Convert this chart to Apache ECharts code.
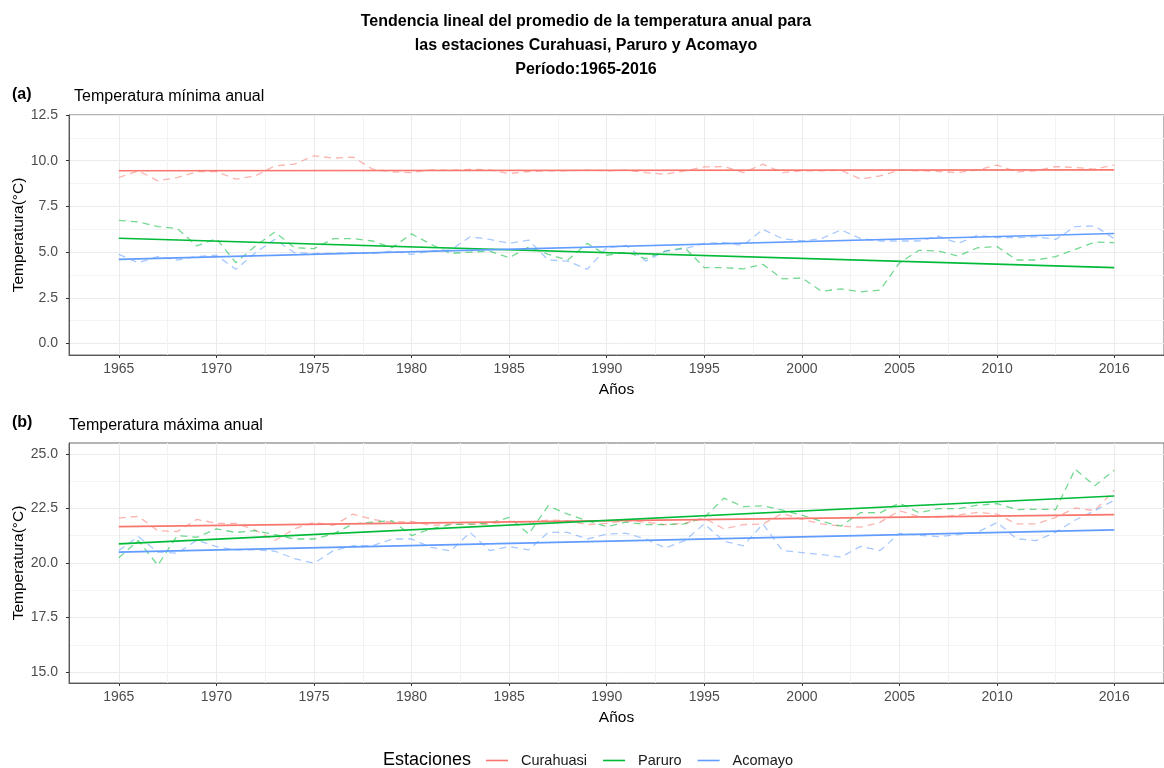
<!DOCTYPE html>
<html lang="es">
<head>
<meta charset="UTF-8">
<title>Tendencia lineal de la temperatura anual</title>
<script src="https://cdn.jsdelivr.net/npm/echarts@6/dist/echarts.min.js"></script>
<style>
    html, body { margin: 0; padding: 0; background: #fff; }
    #main { width: 1164px; height: 768px; }
</style>
</head>
<body>
<div id="main"></div>
<script type="text/javascript">
    // años de la serie
    var years = [1965, 1966, 1967, 1968, 1969, 1970, 1971, 1972, 1973, 1974, 1975, 1976, 1977,
        1978, 1979, 1980, 1981, 1982, 1983, 1984, 1985, 1986, 1987, 1988, 1989, 1990,
        1991, 1992, 1993, 1994, 1995, 1996, 1997, 1998, 1999, 2000, 2001, 2002, 2003,
        2004, 2005, 2006, 2007, 2008, 2009, 2010, 2011, 2012, 2013, 2014, 2015, 2016];
    var stations = ['Curahuasi', 'Paruro', 'Acomayo'];

    // (a) temperatura minima anual
    var tminCurahuasi = [9.08, 9.45, 8.90, 9.08, 9.40, 9.40, 8.99, 9.17, 9.72, 9.81, 10.27, 10.14, 10.20,
        9.54, 9.39, 9.35, 9.50, 9.48, 9.53, 9.50, 9.30, 9.41, 9.45, 9.45, 9.48, 9.45,
        9.48, 9.35, 9.26, 9.45, 9.66, 9.68, 9.35, 9.81, 9.35, 9.45, 9.45, 9.48, 9.00,
        9.17, 9.48, 9.45, 9.41, 9.35, 9.50, 9.76, 9.39, 9.45, 9.68, 9.63, 9.54, 9.76];
    var tminParuro = [6.74, 6.65, 6.40, 6.29, 5.34, 5.74, 4.42, 5.34, 6.10, 5.24, 5.19, 5.74, 5.74,
        5.61, 5.24, 6.00, 5.43, 4.93, 5.00, 5.06, 4.69, 5.28, 4.88, 4.57, 5.48, 4.83,
        5.00, 4.64, 5.06, 5.24, 4.15, 4.15, 4.09, 4.33, 3.54, 3.59, 2.86, 2.99, 2.83,
        2.92, 4.42, 5.10, 5.06, 4.79, 5.24, 5.30, 4.57, 4.57, 4.76, 5.15, 5.55, 5.52];
    var tminAcomayo = [4.88, 4.42, 4.76, 4.57, 4.76, 4.83, 4.06, 4.97, 5.70, 4.97, 4.92, 4.94, 4.97,
        4.92, 5.06, 4.88, 5.06, 5.11, 5.84, 5.70, 5.48, 5.66, 4.57, 4.51, 4.06, 5.24,
        5.37, 4.51, 5.06, 5.19, 5.48, 5.52, 5.37, 6.25, 5.74, 5.61, 5.74, 6.22, 5.74,
        5.61, 5.61, 5.61, 5.88, 5.48, 5.92, 5.79, 5.79, 5.84, 5.70, 6.40, 6.43, 5.74];

    // (b) temperatura maxima anual
    var tmaxCurahuasi = [22.06, 22.14, 21.48, 21.44, 22.00, 21.82, 21.82, 21.50, 21.03, 21.56, 21.87, 21.72, 22.24,
        22.00, 21.87, 21.91, 21.72, 21.78, 21.76, 21.79, 21.91, 21.87, 21.97, 21.94, 21.76, 21.82,
        21.94, 21.87, 21.76, 21.82, 22.06, 21.56, 21.76, 21.79, 22.27, 22.00, 21.79, 21.69, 21.64,
        21.86, 22.40, 22.12, 22.09, 22.20, 22.32, 22.24, 21.79, 21.79, 22.09, 22.52, 22.40, 23.34];
    var tmaxParuro = [20.24, 21.03, 19.90, 21.26, 21.18, 21.56, 21.40, 21.48, 21.30, 21.10, 21.10, 21.33, 21.79,
        21.87, 21.94, 21.26, 21.56, 21.76, 21.79, 21.82, 22.09, 21.33, 22.62, 22.24, 21.94, 21.67,
        21.87, 21.76, 21.76, 21.79, 22.09, 22.97, 22.58, 22.62, 22.42, 22.19, 21.91, 21.69, 22.31,
        22.30, 22.75, 22.30, 22.49, 22.49, 22.65, 22.72, 22.45, 22.46, 22.45, 24.30, 23.54, 24.25];
    var tmaxAcomayo = [20.57, 21.21, 20.50, 20.45, 21.05, 20.75, 20.60, 20.60, 20.54, 20.20, 19.99, 20.57, 20.79,
        20.79, 21.10, 21.10, 20.72, 20.55, 21.40, 20.57, 20.75, 20.60, 21.40, 21.40, 21.10, 21.33,
        21.36, 21.10, 20.69, 21.03, 21.79, 21.00, 20.79, 21.79, 20.57, 20.48, 20.39, 20.27, 20.76,
        20.57, 21.36, 21.27, 21.21, 21.30, 21.41, 21.86, 21.11, 21.03, 21.41, 21.97, 22.40, 22.88];

    // rectas de tendencia (valores en 1965 y 2016)
    var trendYears = [1965, 2016];
    var tminTrendCurahuasi = [9.45, 9.50];
    var tminTrendParuro = [5.76, 4.15];
    var tminTrendAcomayo = [4.60, 6.02];
    var tmaxTrendCurahuasi = [21.67, 22.22];
    var tmaxTrendParuro = [20.88, 23.07];
    var tmaxTrendAcomayo = [20.50, 21.52];

    // marcas de los ejes
    var xBreaks = [1965, 1970, 1975, 1980, 1985, 1990, 1995, 2000, 2005, 2010, 2016];
    var xMinor = [1967.5, 1972.5, 1977.5, 1982.5, 1987.5, 1992.5, 1997.5, 2002.5, 2007.5, 2013];
    var yBreaksMin = [0, 2.5, 5, 7.5, 10, 12.5];
    var yMinorMin = [1.25, 3.75, 6.25, 8.75, 11.25];
    var yBreaksMax = [15, 17.5, 20, 22.5, 25];
    var yMinorMax = [16.25, 18.75, 21.25, 23.75];

    var colors = ['#F8766D', '#00BA38', '#619CFF'];
    var FONT = 'Liberation Sans, Arial, sans-serif';

    function pairs(xs, ys) {
        var out = [];
        for (var i = 0; i < xs.length; i++) out.push([xs[i], ys[i]]);
        return out;
    }

    function majorX(grid) {
        return {
            type: 'value', gridIndex: grid, position: 'bottom',
            min: 1962.45, max: 2018.55,
            name: 'Años', nameLocation: 'middle', nameGap: 27, nameMoveOverlap: false,
            nameTextStyle: { color: '#000', fontSize: 15.5, fontFamily: FONT },
            axisLine: { onZero: false, lineStyle: { color: '#5a5a5a', width: 1 } },
            axisTick: { customValues: xBreaks, length: 3, lineStyle: { color: '#333' } },
            axisLabel: { customValues: xBreaks, color: '#4d4d4d', fontSize: 14, fontFamily: FONT, margin: 7,
                formatter: function (v) { return String(Math.round(v)); } },
            splitLine: { show: true, lineStyle: { color: '#ebebeb', width: 1 } }
        };
    }
    function minorX(grid) {
        return {
            type: 'value', gridIndex: grid, position: 'bottom',
            min: 1962.45, max: 2018.55,
            axisLine: { show: false },
            axisTick: { show: false, customValues: xMinor },
            axisLabel: { show: false },
            splitLine: { show: true, lineStyle: { color: '#f3f3f3', width: 1 } }
        };
    }
    function majorY(grid, min, max, breaks) {
        return {
            type: 'value', gridIndex: grid, position: 'left',
            min: min, max: max,
            name: 'Temperatura(°C)', nameLocation: 'middle', nameGap: 42, nameMoveOverlap: false,
            nameTextStyle: { color: '#000', fontSize: 15.5, fontFamily: FONT },
            axisLine: { show: true, onZero: false, lineStyle: { color: '#5a5a5a', width: 1 } },
            axisTick: { show: true, customValues: breaks, length: 3, lineStyle: { color: '#333' } },
            axisLabel: { customValues: breaks, color: '#4d4d4d', fontSize: 14, fontFamily: FONT, margin: 11,
                formatter: function (v) { return v.toFixed(1); } },
            splitLine: { show: true, lineStyle: { color: '#ebebeb', width: 1 } }
        };
    }
    function minorY(grid, min, max, minor) {
        return {
            type: 'value', gridIndex: grid, position: 'left',
            min: min, max: max,
            axisLine: { show: false },
            axisTick: { show: false, customValues: minor },
            axisLabel: { show: false },
            splitLine: { show: true, lineStyle: { color: '#f3f3f3', width: 1 } }
        };
    }

    var panels = [
        { series: [tminCurahuasi, tminParuro, tminAcomayo],
          trends: [tminTrendCurahuasi, tminTrendParuro, tminTrendAcomayo], x: 0, y: 0 },
        { series: [tmaxCurahuasi, tmaxParuro, tmaxAcomayo],
          trends: [tmaxTrendCurahuasi, tmaxTrendParuro, tmaxTrendAcomayo], x: 2, y: 2 }
    ];

    var series = [];
    // tendencias primero para que la leyenda tome la linea continua
    panels.forEach(function (p) {
        for (var k = 0; k < 3; k++) {
            series.push({
                name: stations[k], type: 'line', xAxisIndex: p.x, yAxisIndex: p.y,
                data: pairs(trendYears, p.trends[k]),
                symbol: 'none', silent: true, z: 4,
                lineStyle: { color: colors[k], width: 1.7 },
                itemStyle: { color: colors[k] }
            });
        }
    });
    panels.forEach(function (p) {
        for (var k = 0; k < 3; k++) {
            series.push({
                name: stations[k], type: 'line', xAxisIndex: p.x, yAxisIndex: p.y,
                data: pairs(years, p.series[k]),
                symbol: 'none', silent: true, z: 3,
                lineStyle: { color: colors[k], width: 1.3, type: [7, 5], opacity: 0.55 },
                itemStyle: { color: colors[k] }
            });
        }
    });

    var option = {
        backgroundColor: '#fff',
        animation: false,
        textStyle: { fontFamily: FONT },
        title: [
            { text: 'Tendencia lineal del promedio de la temperatura anual para\nlas estaciones Curahuasi, Paruro y Acomayo\nPeríodo:1965-2016',
              left: 586, top: 10, padding: 0, textAlign: 'center',
              textStyle: { fontSize: 16, fontWeight: 'bold', color: '#000', lineHeight: 24, fontFamily: FONT } },
            { text: '(a)', left: 12, top: 87, padding: 0,
              textStyle: { fontSize: 16, fontWeight: 'bold', color: '#000', fontFamily: FONT } },
            { text: 'Temperatura mínima anual', left: 74, top: 89, padding: 0,
              textStyle: { fontSize: 16, fontWeight: 'normal', color: '#000', fontFamily: FONT } },
            { text: '(b)', left: 12, top: 415, padding: 0,
              textStyle: { fontSize: 16, fontWeight: 'bold', color: '#000', fontFamily: FONT } },
            { text: 'Temperatura máxima anual', left: 69, top: 418, padding: 0,
              textStyle: { fontSize: 16, fontWeight: 'normal', color: '#000', fontFamily: FONT } },
            { text: 'Estaciones', left: 383, top: 751, padding: 0,
              textStyle: { fontSize: 18, fontWeight: 'normal', color: '#000', fontFamily: FONT } }
        ],
        legend: {
            data: stations,
            left: 486, top: 753, padding: 0,
            icon: 'rect',
            itemWidth: 22, itemHeight: 1.6, itemGap: 16,
            textStyle: { fontSize: 14.5, color: '#1a1a1a', fontFamily: FONT, padding: [0, 0, 0, 8] }
        },
        grid: [
            { left: 69, right: 0, top: 115, height: 240, show: true, borderColor: '#6a6a6a', borderWidth: 1,
              containLabel: false, outerBoundsMode: 'none' },
            { left: 69, right: 0, top: 443, height: 240, show: true, borderColor: '#6a6a6a', borderWidth: 1,
              containLabel: false, outerBoundsMode: 'none' }
        ],
        xAxis: [majorX(0), minorX(0), majorX(1), minorX(1)],
        yAxis: [
            majorY(0, -0.625, 12.5, yBreaksMin),
            minorY(0, -0.625, 12.5, yMinorMin),
            majorY(1, 14.5, 25.5, yBreaksMax),
            minorY(1, 14.5, 25.5, yMinorMax)
        ],
        series: series
    };

    var myChart = echarts.init(document.getElementById('main'));
    myChart.setOption(option);
</script>
</body>
</html>
